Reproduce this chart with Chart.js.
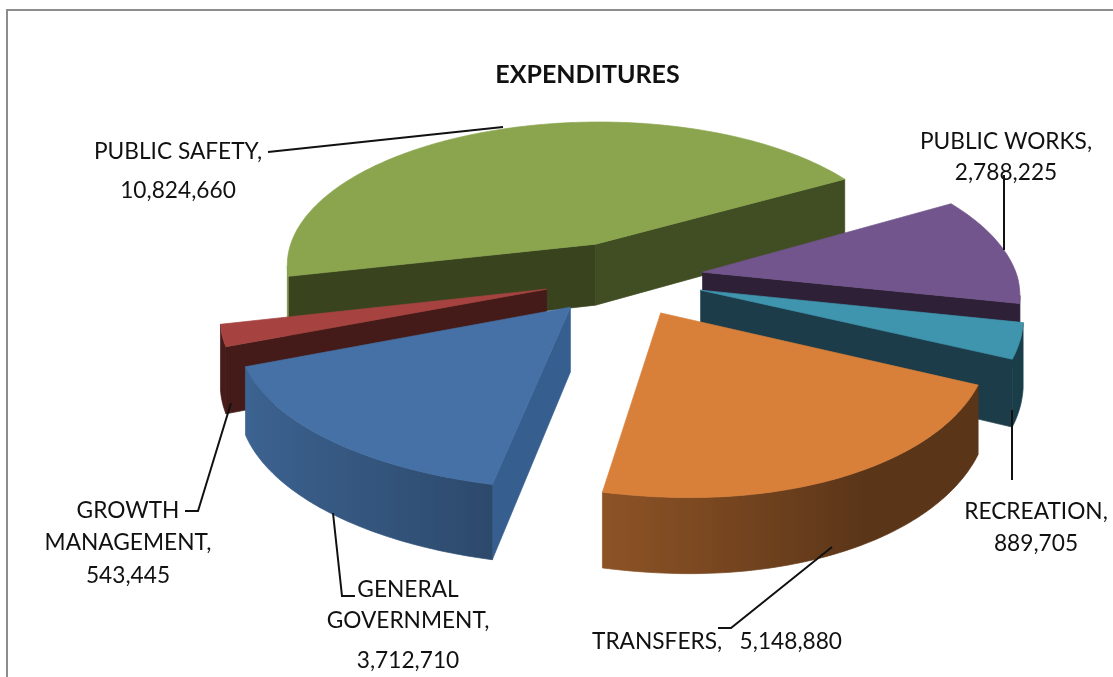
<!DOCTYPE html>
<html>
<head>
<meta charset="utf-8">
<title>Expenditures</title>
<style>
  html, body { margin: 0; padding: 0; background: #fff; overflow: hidden; }
  #wrap { position: relative; width: 1113px; height: 677px; }
</style>
<script src="https://cdn.jsdelivr.net/npm/chart.js@4/dist/chart.umd.min.js"></script>
</head>
<body>
<div id="wrap"><canvas id="pie" width="1113" height="677"></canvas></div>
<script>
// Budget figures, clockwise from the largest slice
const categories = ['PUBLIC SAFETY,', 'PUBLIC WORKS,', 'RECREATION,', 'TRANSFERS,', 'GENERAL GOVERNMENT,', 'GROWTH MANAGEMENT,'];
const amounts = [10824660, 2788225, 889705, 5148880, 3712710, 543445];

// Face colours per slice
const topColors = ['#8aa54e', '#71558c', '#3f94ae', '#d87f3a', '#4571a6', '#a64341'];
const cutColors = [
  ['#39441e', '#414e23'], ['#2e2137', '#2e2137'], ['#1b3c48', '#1b3c48'],
  ['#58341a', '#58341a'], ['#365f8f', '#365f8f'], ['#451b19', '#451b19']
];
const wallGain = [1, 1, 1, 1, 1, 0];

// How the flat pie is tilted onto the page
const view = { cx: 624, cy: 278, rx: 315, ry: 148, persp: 0.14, frontSkew: 16, leftWiden: 0.04, rightNarrow: 0.02, depth: 63 };

// Callout text placement: anchor x, and a y per line
const callouts = [
  { x: 178, ys: [152, 191], lines: i => [categories[i], fmt(amounts[i])], leader: [[268, 152], [503, 127]] },
  { x: 1006, ys: [142, 173], lines: i => [categories[i], fmt(amounts[i])], leader: [[1004, 175], [1004, 250]] },
  { x: 1036, ys: [512, 544], lines: i => [categories[i], fmt(amounts[i])], leader: [[1012, 410], [1012, 480]] },
  { x: 717, ys: [642], lines: i => [categories[i] + '   ' + fmt(amounts[i])], leader: [[832, 547], [731, 628], [718, 628]] },
  { x: 408, ys: [590, 621, 661], lines: i => [...categories[i].split(' '), fmt(amounts[i])], leader: [[333, 513], [342, 596], [355, 596]] },
  { x: 128, ys: [511, 543, 576], lines: i => [...categories[i].split(' '), fmt(amounts[i])], leader: [[231, 403], [198, 511], [185, 511]] }
];

function fmt(n) { return n.toLocaleString('en-US'); }

function project(X, Y, Z) {
  const g = 1 / (1 - view.persp * Y);
  const front = Y > 0 ? Y : 0;
  const skew = view.frontSkew * front * front;
  const widen = X < 0 ? 1 + view.leftWiden * front : 1 - view.rightNarrow * front;
  return [view.cx + X * view.rx * g * widen + skew, view.cy + Y * view.ry * g + Z * g];
}

function scaleColor(hex, f) {
  const n = parseInt(hex.slice(1), 16);
  const c = [n >> 16, (n >> 8) & 255, n & 255].map(v => Math.round(v * f));
  return `rgb(${c[0]},${c[1]},${c[2]})`;
}

function fillPoly(ctx, pts, color) {
  ctx.beginPath();
  pts.forEach((p, i) => (i ? ctx.lineTo(p[0], p[1]) : ctx.moveTo(p[0], p[1])));
  ctx.closePath();
  ctx.fillStyle = color;
  ctx.strokeStyle = color;
  ctx.lineWidth = 0.7;
  ctx.fill();
  ctx.stroke();
}

function facesViewer(a, b, c, d) {
  const q = [a, b, c, d];
  let s = 0;
  for (let i = 0; i < 4; i++) {
    const p = q[i], n = q[(i + 1) % 4];
    s += p[0] * n[1] - n[0] * p[1];
  }
  return s < 0;
}

// Reads each arc element laid out by the doughnut controller and paints it as a solid wedge
const solidPie = {
  id: 'solidPie',
  beforeDatasetDraw() { return false; },
  beforeDatasetsDraw(chart) {
    const ctx = chart.ctx;
    const slices = chart.getDatasetMeta(0).data.map((arc, i) => {
      const p = arc.getProps(['startAngle', 'endAngle', 'outerRadius']);
      const mid = (p.startAngle + p.endAngle) / 2;
      const e = arc.options.offset / p.outerRadius;
      return { i, a0: p.startAngle, a1: p.endAngle, ox: e * Math.cos(mid), oy: e * Math.sin(mid) };
    });
    slices.sort((s, t) => s.oy - t.oy);

    slices.forEach(s => {
      const steps = Math.max(2, Math.ceil((s.a1 - s.a0) / (Math.PI / 180)));
      const rim = [];
      for (let k = 0; k <= steps; k++) {
        const a = s.a0 + (s.a1 - s.a0) * k / steps;
        rim.push({ a, X: s.ox + Math.cos(a), Y: s.oy + Math.sin(a) });
      }
      const hub = { X: s.ox, Y: s.oy };
      const top = q => project(q.X, q.Y, 0);
      const low = q => project(q.X, q.Y, view.depth);
      const visible = (u, v) => facesViewer(top(u), top(v), low(v), low(u));
      const cut = (u, v, color) => {
        if (visible(u, v)) fillPoly(ctx, [top(u), top(v), low(v), low(u)], color);
      };

      cut(hub, rim[0], cutColors[s.i][0]);
      cut(rim[steps], hub, cutColors[s.i][1]);

      // Outer rim: one polygon per visible run, shaded with a left-to-right gradient
      let k = 0;
      while (k < steps) {
        if (!visible(rim[k], rim[k + 1])) { k++; continue; }
        let end = k + 1;
        while (end < steps && visible(rim[end], rim[end + 1])) end++;
        const run = rim.slice(k, end + 1);
        const xs = run.map(q => top(q)[0]);
        const x0 = Math.min(...xs), x1 = Math.max(...xs);
        const grad = ctx.createLinearGradient(x0, 0, x1 > x0 ? x1 : x0 + 1, 0);
        run.forEach((q, j) => {
          const nx = Math.cos(q.a);
          const shade = 0.42 + Math.max(0, 0.5 - nx) * 0.32 * wallGain[s.i];
          grad.addColorStop((xs[j] - x0) / Math.max(1, x1 - x0), scaleColor(topColors[s.i], shade));
        });
        fillPoly(ctx, [...run.map(top), ...run.slice().reverse().map(low)], grad);
        k = end;
      }
      fillPoly(ctx, [top(hub), ...rim.map(top)], topColors[s.i]);
    });
  },
  afterDraw(chart) {
    const ctx = chart.ctx;
    ctx.save();
    ctx.strokeStyle = '#8c8c8c';
    ctx.lineWidth = 2;
    ctx.strokeRect(7, 10, 1300, 900);

    ctx.strokeStyle = '#111';
    ctx.lineWidth = 2;
    callouts.forEach(c => {
      ctx.beginPath();
      c.leader.forEach((p, i) => (i ? ctx.lineTo(p[0], p[1]) : ctx.moveTo(p[0], p[1])));
      ctx.stroke();
    });

    ctx.fillStyle = '#111';
    ctx.font = '22.7px Lato';
    ctx.textAlign = 'center';
    ctx.textBaseline = 'middle';
    callouts.forEach((c, i) => {
      c.lines(i).forEach((t, k) => ctx.fillText(t, c.x, c.ys[k]));
    });
    ctx.restore();
  }
};

new Chart(document.getElementById('pie'), {
  type: 'pie',
  data: {
    labels: categories,
    datasets: [{ data: amounts, backgroundColor: topColors, offset: 65, borderWidth: 0 }]
  },
  options: {
    responsive: false,
    animation: false,
    rotation: -103,
    layout: { padding: { left: 62 } },
    plugins: {
      legend: { display: false },
      tooltip: { enabled: false },
      title: {
        display: true,
        text: 'EXPENDITURES',
        fullSize: false,
        color: '#111',
        font: { family: 'Lato', size: 25, weight: 'bold' },
        padding: { top: 60, bottom: 10 }
      }
    }
  },
  plugins: [solidPie]
});
</script>
</body>
</html>
